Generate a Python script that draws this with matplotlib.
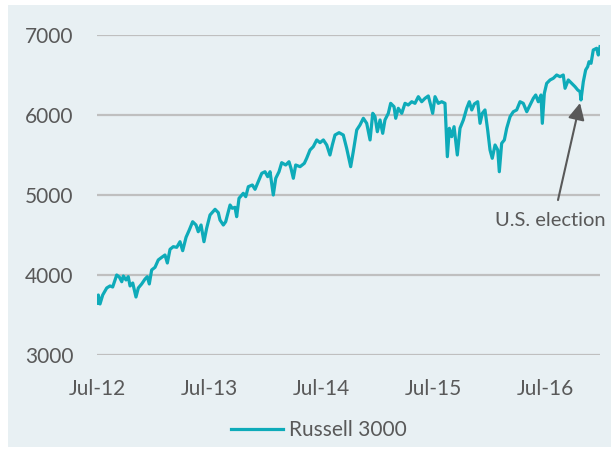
import matplotlib
matplotlib.use("Agg")
import matplotlib.pyplot as plt
from matplotlib.patches import Rectangle

plt.rcParams['font.family'] = ['Lato', 'DejaVu Sans']

# time in decimal years, index level
t = [2012.503, 2012.512, 2012.527, 2012.551, 2012.587, 2012.616, 2012.640, 2012.676,
     2012.699, 2012.721, 2012.735, 2012.759, 2012.779, 2012.795, 2012.819, 2012.848,
     2012.869, 2012.899, 2012.929, 2012.949, 2012.967, 2012.988, 2013.018, 2013.047,
     2013.078, 2013.107, 2013.128, 2013.152, 2013.181, 2013.212, 2013.241, 2013.265,
     2013.295, 2013.324, 2013.354, 2013.384, 2013.404, 2013.429, 2013.455, 2013.479,
     2013.509, 2013.554, 2013.583, 2013.598, 2013.628, 2013.649, 2013.688, 2013.708,
     2013.732, 2013.747, 2013.768, 2013.806, 2013.828, 2013.851, 2013.887, 2013.911,
     2013.940, 2013.971, 2014.000, 2014.024, 2014.045, 2014.074, 2014.096, 2014.125,
     2014.149, 2014.185, 2014.214, 2014.232, 2014.253, 2014.274, 2014.313, 2014.351,
     2014.372, 2014.402, 2014.431, 2014.462, 2014.491, 2014.521, 2014.551, 2014.580,
     2014.601, 2014.625, 2014.661, 2014.699, 2014.729, 2014.765, 2014.788, 2014.819,
     2014.848, 2014.878, 2014.908, 2014.938, 2014.962, 2014.982, 2015.003, 2015.027,
     2015.051, 2015.071, 2015.101, 2015.122, 2015.152, 2015.167, 2015.190, 2015.221,
     2015.250, 2015.279, 2015.310, 2015.339, 2015.369, 2015.399, 2015.429, 2015.458,
     2015.479, 2015.497, 2015.518, 2015.547, 2015.578, 2015.607, 2015.628, 2015.646,
     2015.667, 2015.688, 2015.717, 2015.741, 2015.771, 2015.801, 2015.824, 2015.846,
     2015.869, 2015.899, 2015.920, 2015.940, 2015.964, 2015.988, 2016.009, 2016.029,
     2016.054, 2016.078, 2016.092, 2016.113, 2016.137, 2016.158, 2016.188, 2016.217,
     2016.247, 2016.277, 2016.306, 2016.337, 2016.366, 2016.396, 2016.417, 2016.440,
     2016.464, 2016.476, 2016.494, 2016.515, 2016.545, 2016.574, 2016.604, 2016.634,
     2016.663, 2016.679, 2016.708, 2016.738, 2016.768, 2016.792, 2016.813, 2016.821,
     2016.842, 2016.863, 2016.881, 2016.893, 2016.911, 2016.931, 2016.961, 2016.976,
     2016.991]
russell = [3646, 3750, 3638, 3750, 3838, 3863, 3850, 4000,
           3975, 3916, 3988, 3938, 3979, 3863, 3900, 3725,
           3838, 3888, 3950, 3979, 3888, 4063, 4096, 4188,
           4221, 4250, 4150, 4321, 4354, 4346, 4416, 4304,
           4471, 4563, 4666, 4625, 4541, 4625, 4416, 4584,
           4750, 4821, 4779, 4688, 4625, 4666, 4875, 4834,
           4846, 4729, 4959, 5021, 4979, 5104, 5125, 5071,
           5166, 5271, 5291, 5229, 5291, 5000, 5209, 5291,
           5404, 5375, 5416, 5334, 5209, 5375, 5354, 5396,
           5459, 5563, 5604, 5688, 5654, 5688, 5625, 5500,
           5625, 5750, 5779, 5750, 5584, 5354, 5541, 5813,
           5875, 5959, 5896, 5688, 6021, 5979, 5791, 5938,
           5771, 5938, 6021, 6146, 6104, 5959, 6084, 6021,
           6146, 6125, 6166, 6146, 6229, 6166, 6209, 6238,
           6125, 6021, 6229, 6146, 6166, 6146, 5479, 5834,
           5729, 5854, 5500, 5834, 5938, 6084, 6166, 6063,
           6138, 6166, 5896, 6021, 6063, 5813, 5563, 5459,
           5625, 5563, 5291, 5646, 5688, 5834, 5979, 6041,
           6063, 6166, 6146, 6041, 6125, 6209, 6250, 6166,
           6250, 5896, 6271, 6396, 6438, 6459, 6500, 6479,
           6500, 6334, 6438, 6396, 6354, 6313, 6291, 6188,
           6416, 6563, 6604, 6666, 6646, 6813, 6834, 6750,
           6854]

x_ticks = [2012.5, 2013.5, 2014.5, 2015.5, 2016.5]
x_labels = ['Jul-12', 'Jul-13', 'Jul-14', 'Jul-15', 'Jul-16']
y_ticks = [3000, 4000, 5000, 6000, 7000]

bg = '#e8f0f3'
teal = '#0eabb9'
grey_txt = '#595959'

fig = plt.figure(figsize=(6.11, 4.5), dpi=100, facecolor='white')
fig.patches.append(Rectangle((8 / 611, 3 / 450), 603 / 611, 442 / 450,
                             transform=fig.transFigure, facecolor=bg,
                             edgecolor='none', zorder=-10))

ax = fig.add_axes([97 / 611, 95 / 450, 503 / 611, 320 / 450])
ax.set_facecolor('none')
ax.plot(t, russell, color=teal, lw=2.3, label='Russell 3000', zorder=3,
        solid_joinstyle='round')

ax.set_xlim(2012.5, 2016.991)
ax.set_ylim(3000, 7000)
ax.set_xticks(x_ticks)
ax.set_xticklabels(x_labels)
ax.set_yticks(y_ticks)
ax.grid(axis='y', color='#bfbfbf', lw=1.6, zorder=1)
ax.set_axisbelow(True)
for s in ax.spines.values():
    s.set_visible(False)
ax.tick_params(length=0, labelsize=15, labelcolor=grey_txt)
ax.tick_params(axis='x', pad=17.5)
ax.tick_params(axis='y', pad=17)

# election annotation
ax.text(2016.545, 4612, 'U.S. election', fontsize=14.5, color=grey_txt,
        ha='center', va='baseline')
ax.annotate('', xy=(2016.8125, 6150), xytext=(2016.616, 4937),
            arrowprops=dict(arrowstyle='-|>', color=grey_txt, lw=1.5,
                            mutation_scale=25, shrinkA=0, shrinkB=0), zorder=4)

fig.legend(loc='center', bbox_to_anchor=(0.522, 0.044), frameon=False,
           fontsize=15, handlelength=2.5, handletextpad=0.3, labelcolor=grey_txt)

fig.savefig('out.png', dpi=100, facecolor='white')
